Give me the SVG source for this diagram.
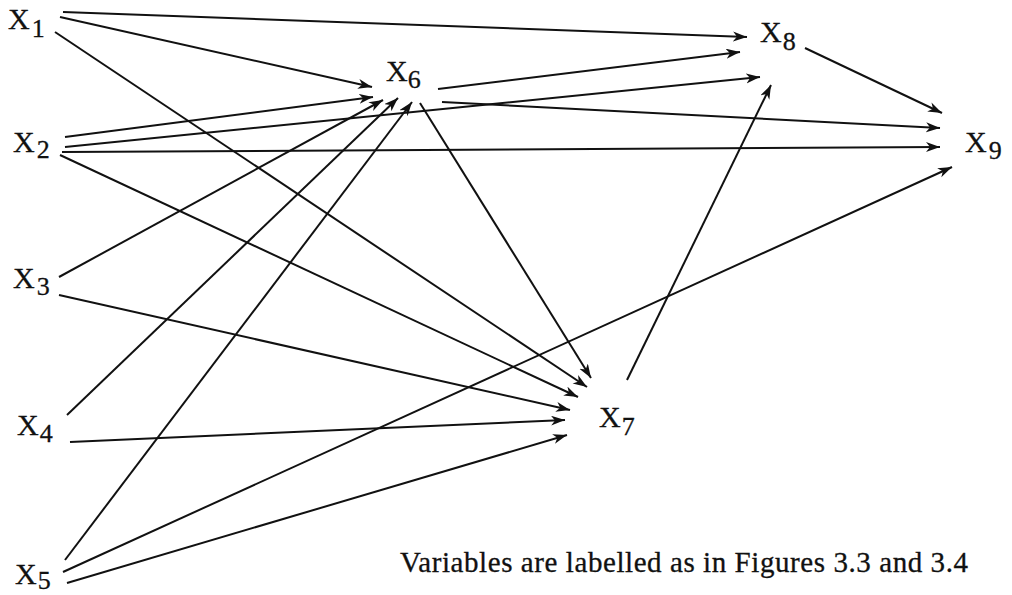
<svg xmlns="http://www.w3.org/2000/svg" width="1012" height="595" viewBox="0 0 1012 595">
  <style>
    .lbl { font-family: "Liberation Serif", "Times New Roman", serif; font-size: 30px; fill: #111; stroke: #111; stroke-width: 0.3; }
    .sub { font-size: 26px; }
    .edge { stroke: #111; stroke-width: 2; fill: none; marker-end: url(#arr); }
    .cap { font-family: "Liberation Serif", "Times New Roman", serif; font-size: 29px; fill: #111; stroke: #111; stroke-width: 0.3; }
  </style>
  <defs>
    <marker id="arr" markerUnits="userSpaceOnUse" markerWidth="16" markerHeight="11" refX="14" refY="5" orient="auto">
      <path d="M0,0 L14,5 L0,10 L4,5 z" fill="#111"/>
    </marker>
  </defs>
  <rect width="1012" height="595" fill="#fff"/>

  <g id="connectors">
    <line class="edge" x1="63" y1="12" x2="747" y2="37"/>
    <line class="edge" x1="60" y1="17" x2="372" y2="87"/>
    <line class="edge" x1="55" y1="32" x2="587" y2="387"/>
    <line class="edge" x1="65" y1="137" x2="373" y2="97"/>
    <line class="edge" x1="65" y1="147" x2="760" y2="77"/>
    <line class="edge" x1="62" y1="152" x2="940" y2="147"/>
    <line class="edge" x1="60" y1="155" x2="578" y2="397"/>
    <line class="edge" x1="59" y1="277" x2="383" y2="100"/>
    <line class="edge" x1="59" y1="295" x2="570" y2="410"/>
    <line class="edge" x1="67" y1="415" x2="398" y2="98"/>
    <line class="edge" x1="70" y1="442" x2="565" y2="420"/>
    <line class="edge" x1="65" y1="560" x2="412" y2="102"/>
    <line class="edge" x1="63" y1="572" x2="952" y2="167"/>
    <line class="edge" x1="67" y1="583" x2="567" y2="435"/>
    <line class="edge" x1="438" y1="89" x2="740" y2="52"/>
    <line class="edge" x1="442" y1="102" x2="940" y2="128"/>
    <line class="edge" x1="420" y1="103" x2="591" y2="378"/>
    <line class="edge" x1="627" y1="380" x2="771" y2="85"/>
    <line class="edge" x1="805" y1="48" x2="942" y2="113"/>
  </g>

  <g id="x1"><text class="lbl" x="8" y="29">X<tspan class="sub" dx="2" dy="8">1</tspan></text></g>
  <g id="x2"><text class="lbl" x="13" y="152">X<tspan class="sub" dx="2" dy="6">2</tspan></text></g>
  <g id="x3"><text class="lbl" x="13" y="288">X<tspan class="sub" dx="2" dy="7">3</tspan></text></g>
  <g id="x4"><text class="lbl" x="17" y="435">X<tspan class="sub" dx="1" dy="7">4</tspan></text></g>
  <g id="x5"><text class="lbl" x="15" y="584">X<tspan class="sub" dx="1" dy="5">5</tspan></text></g>
  <g id="x6"><text class="lbl" x="386" y="81">X<tspan class="sub" dx="0" dy="7">6</tspan></text></g>
  <g id="x7"><text class="lbl" x="599" y="427">X<tspan class="sub" dx="1" dy="8">7</tspan></text></g>
  <g id="x8"><text class="lbl" x="760" y="42">X<tspan class="sub" dx="1" dy="8">8</tspan></text></g>
  <g id="x9"><text class="lbl" x="965" y="152">X<tspan class="sub" dx="2" dy="7">9</tspan></text></g>

  <g id="caption"><text class="cap" x="400" y="572" textLength="568" lengthAdjust="spacing">Variables are labelled as in Figures 3.3 and 3.4</text></g>
</svg>
